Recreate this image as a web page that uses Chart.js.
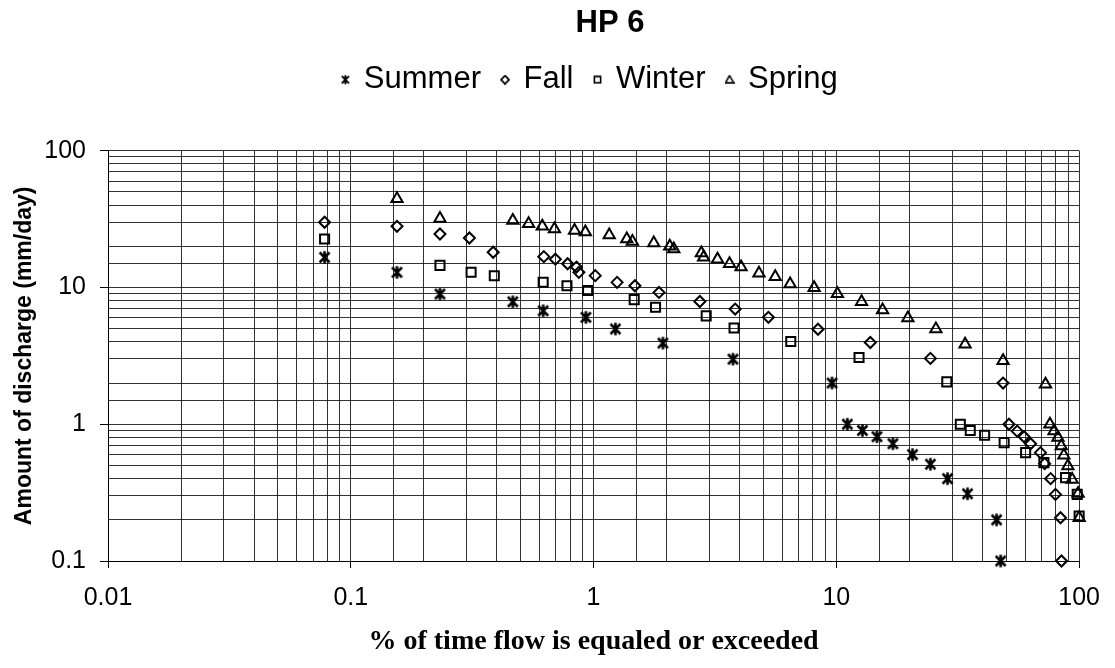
<!DOCTYPE html>
<html>
<head>
<meta charset="utf-8">
<script src="https://cdn.jsdelivr.net/npm/chart.js@4.4.1/dist/chart.umd.min.js"></script>
<style>
    html, body { margin: 0; padding: 0; background: #fff; }
    #wrap { width: 1115px; height: 668px; }
</style>
</head>
<body>
<div id="wrap"><canvas id="chart" width="1115" height="668"></canvas></div>
<script>
// =============================
// DATA
// =============================
const chartTitle = "HP 6";
const xTitle = "% of time flow is equaled or exceeded";
const yTitle = "Amount of discharge (mm/day)";

const xMin = 0.01, xMax = 100;
const yMin = 0.1, yMax = 100;

const summerX = [0.078, 0.155, 0.233, 0.465, 0.62, 0.93, 1.23, 1.93, 3.75, 9.6,
                 11.1, 12.8, 14.7, 17.1, 20.6, 24.4, 28.7, 34.7, 45.7, 47.5];
const summerY = [16.6, 12.9, 8.95, 7.86, 6.75, 6.05, 4.97, 3.92, 2.99, 2.0,
                 1.0, 0.9, 0.81, 0.72, 0.6, 0.51, 0.4, 0.31, 0.2, 0.1];

const fallX = [0.078, 0.155, 0.233, 0.308, 0.386, 0.624, 0.696, 0.782, 0.85, 0.87,
               1.016, 1.25, 1.48, 1.86, 2.74, 3.83, 5.25, 8.4, 13.8, 24.4,
               48.6, 51.4, 55.6, 59.3, 63.1, 69.3, 72.1, 76.3, 79.9, 83.8, 84.6];
const fallY = [30, 28, 24.6, 23, 18.1, 16.8, 16.1, 14.9, 14.1, 12.9,
               12.2, 10.9, 10.3, 9.2, 7.9, 6.95, 6.05, 4.95, 3.96, 3.03,
               2.0, 1.0, 0.89, 0.81, 0.72, 0.62, 0.515, 0.4, 0.307, 0.207, 0.1];

const winterX = [0.078, 0.233, 0.313, 0.39, 0.62, 0.777, 0.945, 1.47, 1.8, 2.91,
                 3.79, 6.49, 12.4, 28.5, 32.4, 35.6, 40.8, 49.1, 60.2, 71.6,
                 87.9, 98.2, 100];
const winterY = [22.6, 14.5, 12.9, 12.2, 10.9, 10.3, 9.5, 8.15, 7.16, 6.2,
                 5.05, 4.03, 3.08, 2.04, 1.0, 0.9, 0.83, 0.734, 0.62, 0.524,
                 0.407, 0.307, 0.213];

const springX = [0.155, 0.233, 0.465, 0.54, 0.615, 0.69, 0.835, 0.925, 1.16, 1.37,
                 1.445, 1.77, 2.06, 2.14, 2.78, 2.84, 3.24, 3.63, 4.05, 4.8,
                 5.6, 6.45, 8.1, 10.1, 12.7, 15.5, 19.7, 25.7, 33.9, 48.6,
                 72.7, 75.8, 78.8, 81.8, 84.4, 86.5, 89.9, 93.6, 99, 100];
const springY = [44.5, 32, 30.9, 29.2, 28.0, 26.8, 26.1, 25.4, 24.2, 22.6,
                 21.7, 21.1, 20.0, 19.1, 17.9, 16.6, 16.1, 14.9, 14.1, 12.7,
                 12.0, 10.6, 9.95, 9.0, 7.86, 6.85, 5.98, 4.97, 3.85, 2.91,
                 1.96, 1.0, 0.893, 0.8, 0.694, 0.593, 0.495, 0.395, 0.311, 0.207];

// =============================
// MARKERS
// =============================
function markerCanvas(kind, size, lw) {
    const c = document.createElement("canvas");
    c.width = size;
    c.height = size;
    const g = c.getContext("2d");
    const m = size / 2;
    const r = size / 2 - lw / 2;
    g.strokeStyle = "#000";
    g.lineWidth = lw;
    g.beginPath();
    if (kind === "star") {
        const d = r * 0.8;
        g.moveTo(m, m - r); g.lineTo(m, m + r);
        g.moveTo(m - d, m - d); g.lineTo(m + d, m + d);
        g.moveTo(m + d, m - d); g.lineTo(m - d, m + d);
    } else if (kind === "diamond") {
        g.moveTo(m, m - r); g.lineTo(m + r, m); g.lineTo(m, m + r); g.lineTo(m - r, m); g.closePath();
    } else if (kind === "square") {
        const s = r * 0.85;
        g.rect(m - s, m - s, 2 * s, 2 * s);
    } else {
        g.moveTo(m, m - r); g.lineTo(m + r, m + r * 0.75); g.lineTo(m - r, m + r * 0.75); g.closePath();
    }
    g.stroke();
    return c;
}

const starPoint = markerCanvas("star", 15, 2.6);
const legendMarks = {
    Summer: markerCanvas("star", 11, 2),
    Fall: markerCanvas("diamond", 10, 1.8),
    Winter: markerCanvas("square", 9, 1.6),
    Spring: markerCanvas("triangle", 10, 1.6)
};

function pts(xs, ys) {
    return xs.map((x, i) => ({ x, y: ys[i] }));
}

function isDecade(v) {
    const l = Math.log10(v);
    return Math.abs(l - Math.round(l)) < 1e-6;
}

// =============================
// HEADER LAYOUT (legend gap + centring)
// =============================
const LEGEND_HEIGHT = 107.5;
const TITLE_DX = 69;
const LEGEND_DX = 49;

const legendSpacer = {
    id: "legendSpacer",
    beforeInit(chart) {
        const fit = chart.legend.fit;
        chart.legend.fit = function () {
            fit.call(this);
            this.height = LEGEND_HEIGHT;
        };
    },
    afterLayout(chart) {
        chart.titleBlock.left += TITLE_DX;
        chart.titleBlock.right += TITLE_DX;
        chart.legend.left += LEGEND_DX;
        chart.legend.right += LEGEND_DX;
    }
};

// =============================
// CHART
// =============================
Chart.defaults.color = "#000";
Chart.defaults.font.family = "'Liberation Sans', Arial, sans-serif";

const GRID = "rgba(0,0,0,0.8)";
const tickMark = ctx => (ctx.tick && isDecade(ctx.tick.value) ? "#000" : "rgba(0,0,0,0)");
const decadeLabel = v => (isDecade(v) ? String(Number(v.toPrecision(3))) : "");

const common = { borderColor: "#000", backgroundColor: "rgba(0,0,0,0)", borderWidth: 2, clip: false };

new Chart(document.getElementById("chart").getContext("2d"), {
    type: "scatter",
    data: {
        datasets: [
            { ...common, label: "Summer", data: pts(summerX, summerY), pointStyle: starPoint, pointRadius: 7 },
            { ...common, label: "Fall", data: pts(fallX, fallY), pointStyle: "rectRot", pointRadius: 5.5 },
            { ...common, label: "Winter", data: pts(winterX, winterY), pointStyle: "rect", pointRadius: 6.4 },
            { ...common, label: "Spring", data: pts(springX, springY), pointStyle: "triangle", pointRadius: 6.5 }
        ]
    },
    options: {
        responsive: false,
        animation: false,
        events: [],
        layout: { padding: { left: 0, right: 33, top: 0, bottom: 0 } },
        plugins: {
            title: {
                display: true,
                text: chartTitle,
                font: { size: 31, weight: "bold" },
                padding: { top: 5, bottom: 1 }
            },
            legend: {
                display: true,
                labels: {
                    usePointStyle: true,
                    boxWidth: 6,
                    boxHeight: 6,
                    padding: 21,
                    font: { size: 31 },
                    generateLabels(chart) {
                        const items = Chart.defaults.plugins.legend.labels.generateLabels(chart);
                        items.forEach(it => { it.pointStyle = legendMarks[it.text]; });
                        return items;
                    }
                }
            },
            tooltip: { enabled: false }
        },
        scales: {
            x: {
                type: "logarithmic",
                min: xMin,
                max: xMax,
                afterFit(s) { s.height = 107; },
                border: { color: "#000", width: 1 },
                grid: { color: GRID, lineWidth: 1, tickLength: 7, tickColor: tickMark },
                ticks: {
                    autoSkip: false,
                    maxRotation: 0,
                    padding: 15,
                    font: { size: 25 },
                    callback: decadeLabel
                },
                title: {
                    display: true,
                    text: xTitle,
                    font: { family: "'Liberation Serif', 'Times New Roman', serif", size: 28, weight: "bold" },
                    padding: { top: 0, bottom: 9 }
                }
            },
            y: {
                type: "logarithmic",
                min: yMin,
                max: yMax,
                afterFit(s) { s.width = 108; },
                border: { color: "#000", width: 1 },
                grid: { color: GRID, lineWidth: 1, tickLength: 8, tickColor: tickMark },
                ticks: {
                    autoSkip: false,
                    padding: 14,
                    font: { size: 25 },
                    callback: decadeLabel
                },
                title: {
                    display: true,
                    text: yTitle,
                    font: { size: 23, weight: "bold" },
                    padding: { top: 11, bottom: 0 }
                }
            }
        }
    },
    plugins: [legendSpacer]
});
</script>
</body>
</html>
